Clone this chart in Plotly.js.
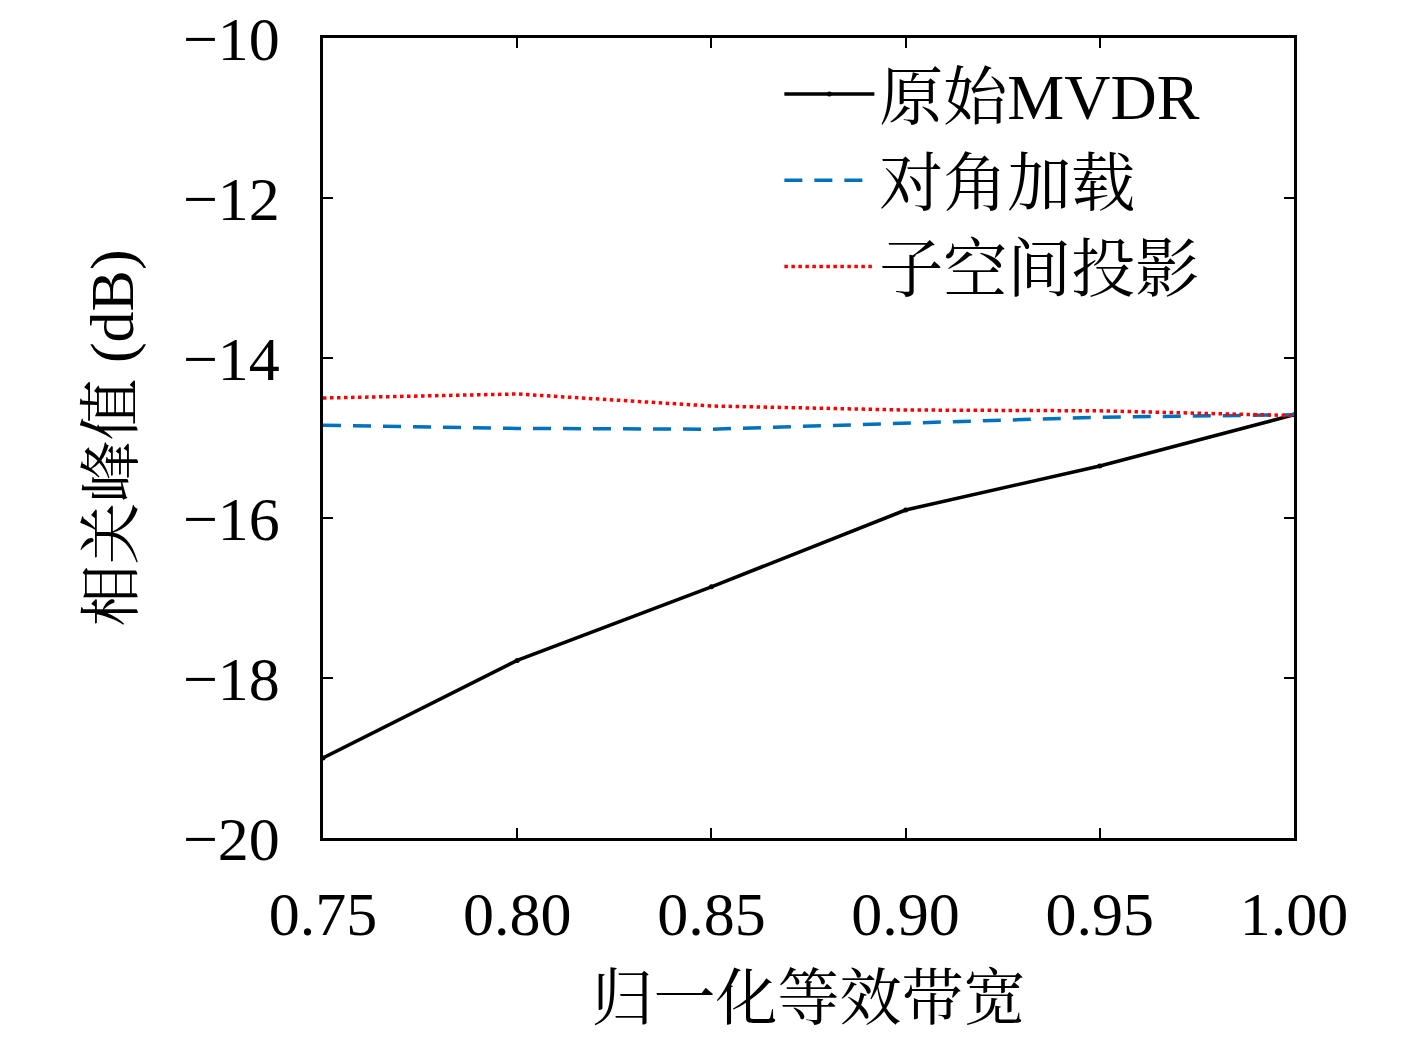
<!DOCTYPE html>
<html>
<head>
<meta charset="utf-8">
<script src="https://cdn.plot.ly/plotly-3.0.1.min.js"></script>
<style>body{margin:0;background:#fff}</style>
</head>
<body>
<div id="chart" style="width:1417px;height:1039px"></div>
<script>
var bandwidth = [0.75, 0.80, 0.85, 0.90, 0.95, 1.00];
var mvdr = [-19.0, -17.78, -16.86, -15.9, -15.35, -14.71];
var diagLoad = [-14.84, -14.88, -14.89, -14.81, -14.74, -14.71];
var subspace = [-14.5, -14.45, -14.6, -14.65, -14.66, -14.72];
var seriesNames = ['原始MVDR', '对角加载', '子空间投影'];

var cjk = '"Liberation Serif", "Noto Serif CJK SC", "Noto Sans CJK SC", serif';

var data = [
  {x: bandwidth, y: mvdr, type: 'scatter', mode: 'lines+markers', name: seriesNames[0],
   line: {color: '#000000', width: 3.5}, marker: {size: 5, color: '#000000'}},
  {x: bandwidth, y: diagLoad, type: 'scatter', mode: 'lines', name: seriesNames[1],
   line: {color: '#0072BD', width: 3.5, dash: '18px,12px'}},
  {x: bandwidth, y: subspace, type: 'scatter', mode: 'lines', name: seriesNames[2],
   line: {color: '#FF0000', width: 3.5, dash: 'dot'}}
];

var axisCommon = {
  showgrid: false, zeroline: false, showline: true, mirror: 'ticks',
  linecolor: '#000', linewidth: 2.5, ticks: 'inside', ticklen: 10, tickwidth: 2,
  tickcolor: '#000', tickfont: {family: cjk, size: 62, color: '#000'}
};

var layout = {
  width: 1417, height: 1039,
  paper_bgcolor: '#fff', plot_bgcolor: '#fff',
  margin: {l: 323, r: 123, t: 38, b: 201},
  showlegend: true,
  legend: {x: 0.47, y: 0.99, xanchor: 'left', yanchor: 'top',
    font: {family: cjk, size: 64, color: '#000'}, bgcolor: 'rgba(0,0,0,0)',
    itemwidth: 90, tracegroupgap: 0},
  xaxis: Object.assign({}, axisCommon, {
    range: [0.75, 1.0], tickvals: bandwidth, ticklabelstandoff: 20,
    ticktext: ['0.75', '0.80', '0.85', '0.90', '0.95', '1.00'],
    title: {text: '归一化等效带宽', font: {family: cjk, size: 62, color: '#000'}, standoff: 30}
  }),
  yaxis: Object.assign({}, axisCommon, {
    range: [-20, -10], tickvals: [-20, -18, -16, -14, -12, -10], ticklabelstandoff: 28,
    ticktext: ['−20', '−18', '−16', '−14', '−12', '−10'],
    title: {text: '相关峰值 (dB)', font: {family: cjk, size: 62, color: '#000'}, standoff: 30}
  })
};

Plotly.newPlot('chart', data, layout, {displayModeBar: false});
</script>
</body>
</html>
